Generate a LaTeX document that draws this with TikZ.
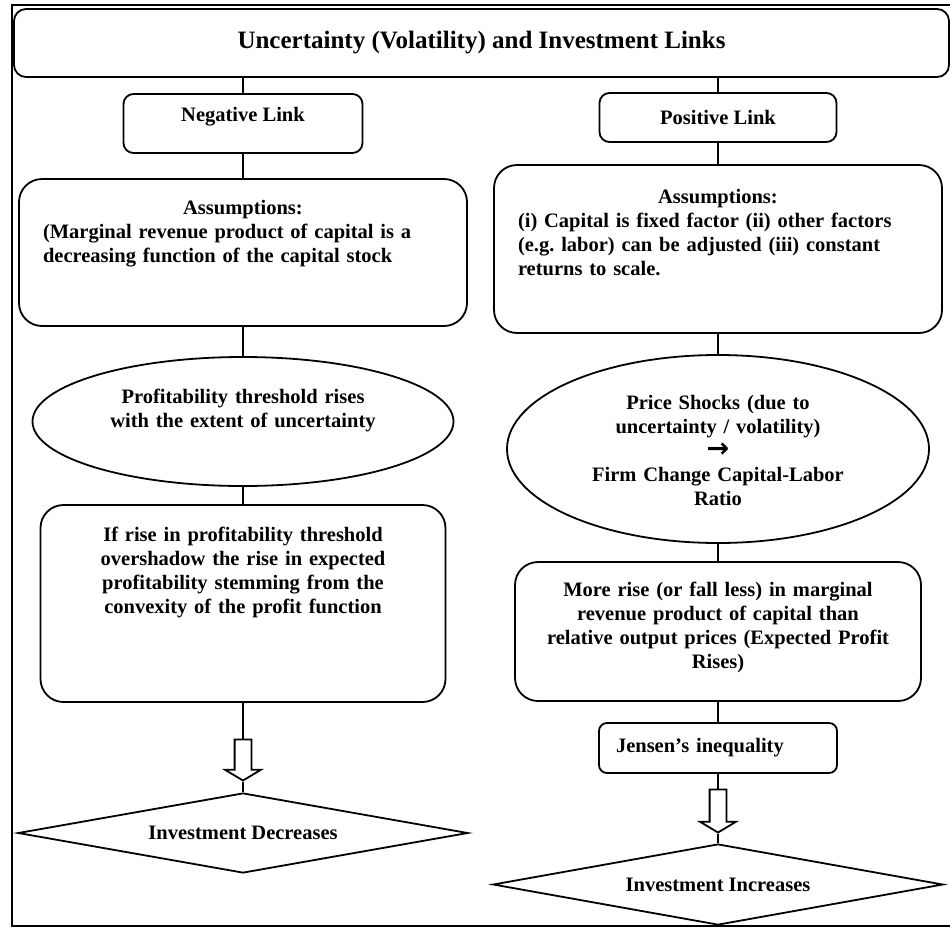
\documentclass[tikz,border=0pt]{standalone}
\usepackage{fontspec}
\setmainfont{Liberation Serif}
\newfontfamily\arrowfont{DejaVu Sans}
\usetikzlibrary{shapes.geometric,shapes.arrows}

\tikzset{
  every node/.style={font=\bfseries\fontsize{20.5}{24}\selectfont},
  linkbox/.style={draw, line width=1.8pt, rounded corners=10pt, inner sep=0pt},
  bigbox/.style={draw, line width=1.8pt, rounded corners=23pt, inner sep=0pt},
  oval/.style={draw, ellipse, line width=1.8pt, inner sep=0pt, text width=292pt, align=center},
  result/.style={draw, diamond, line width=1.8pt, aspect=5.6, inner sep=0pt, minimum width=450pt},
  hollow/.style={draw, single arrow, line width=1.8pt, inner sep=7.5pt, single arrow head extend=9.5pt, single arrow tip angle=118, shape border rotate=270},
  link/.style={line width=1.8pt}
}

\begin{document}
\begin{tikzpicture}[x=1pt,y=-1pt]
\useasboundingbox (0,0) rectangle (950,929);
\draw[line width=2.2pt] (955,5) -- (12,5) -- (12,926) -- (955,926);

\node[linkbox, rounded corners=12pt, minimum width=935pt, minimum height=68pt, font=\bfseries\fontsize{25}{29}\selectfont] (title) at (481.5,43) {Uncertainty (Volatility) and Investment Links};

% negative side
\node[linkbox, minimum width=239pt, text height=27pt, text depth=32pt] (neg) at (243,123.5) {Negative Link};
\node[bigbox, text width=400pt, inner xsep=24pt, text height=35pt, text depth=112pt, align=left] (negass) at (243,252.5) {{\centering Assumptions:\par}(Marginal revenue product of capital is a\\decreasing function of the capital stock};
\node[oval, text height=20pt, text depth=57pt, minimum width=421pt, minimum height=129pt] (negell) at (243,421.5) {Profitability threshold rises\\with the extent of uncertainty};
\node[bigbox, text width=381pt, inner xsep=12pt, text height=36pt, text depth=161pt, align=center] (negbox) at (243,603.5) {If rise in profitability threshold\\overshadow the rise in expected\\profitability stemming from the\\convexity of the profit function};
\node[hollow, minimum height=41pt] (negarr) at (243,757.5) {};
\node[result, minimum height=80pt] (negdia) at (243,833) {Investment Decreases};

% positive side
\node[linkbox, minimum width=237pt, minimum height=49pt] (pos) at (718,117.5) {Positive Link};
\node[bigbox, text width=400pt, inner xsep=24pt, text height=38pt, text depth=130pt, align=left] (posass) at (718,249) {{\centering Assumptions:\par}(i) Capital is fixed factor (ii) other factors\\(e.g.\ labor) can be adjusted (iii) constant\\returns to scale.};
\node[oval, text height=20pt, text depth=100pt, minimum width=422pt, minimum height=188pt] (posell) at (718,449) {Price Shocks (due to\\uncertainty / volatility)\\{\arrowfont\bfseries\fontsize{27}{24}\selectfont →}\\Firm Change Capital-Labor\\Ratio};
\node[bigbox, text width=382pt, inner xsep=12pt, text height=34pt, text depth=105pt, align=center] (posbox) at (718,631.5) {More rise (or fall less) in marginal\\revenue product of capital than\\relative output prices (Expected Profit\\Rises)};
\node[linkbox, rounded corners=8pt, text width=204pt, inner xsep=17pt, minimum height=50pt, align=left] (jensen) at (718,748) {Jensen’s inequality};
\node[hollow, minimum height=43pt] (posarr) at (718,808.5) {};
\node[result, minimum height=81pt] (posdia) at (718,884.5) {Investment Increases};

\draw[link] (title.south -| neg.north) -- (neg.north);
\draw[link] (title.south -| pos.north) -- (pos.north);
\draw[link] (neg) -- (negass);
\draw[link] (negass) -- (negell);
\draw[link] (negell) -- (negbox);
\draw[link] (negbox) -- (negarr.tail);
\draw[link] (negarr.tip) -- (negdia);
\draw[link] (pos) -- (posass);
\draw[link] (posass) -- (posell);
\draw[link] (posell) -- (posbox);
\draw[link] (posbox) -- (jensen);
\draw[link] (jensen) -- (posarr.tail);
\draw[link] (posarr.tip) -- (posdia);
\end{tikzpicture}
\end{document}
